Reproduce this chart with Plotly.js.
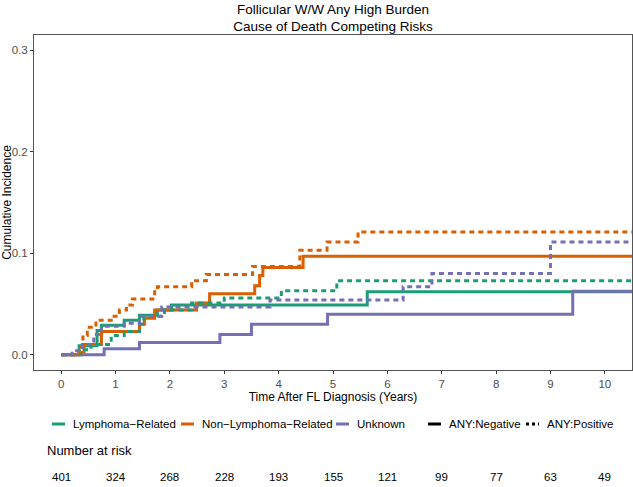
<!DOCTYPE html>
<html><head><meta charset="utf-8">
<script src="https://cdn.plot.ly/plotly-3.0.1.min.js"></script>
<style>body{margin:0;background:#fff}#c{width:633px;height:487px}</style>
</head><body><div id="c"></div>
<script>
// Lymphoma-Related
const lymNegT = [0, 0.33, 0.66, 0.74, 1.16, 1.44, 1.77, 2.03, 5.63, 10.6];
const lymNegY = [0, 0.009, 0.024, 0.029, 0.034, 0.039, 0.044, 0.049, 0.062, 0.062];
const lymPosT = [0, 0.36, 0.55, 0.92, 1.16, 1.44, 1.52, 1.9, 2.4, 3.0, 4.05, 5.07, 10.6];
const lymPosY = [0, 0.005, 0.010, 0.019, 0.023, 0.030, 0.038, 0.044, 0.051, 0.056, 0.063, 0.073, 0.073];
// Non-Lymphoma-Related
const nonNegT = [0, 0.33, 0.42, 0.74, 1.44, 1.53, 1.72, 2.49, 2.73, 3.56, 3.65, 3.71, 4.45, 10.6];
const nonNegY = [0, 0.002, 0.010, 0.023, 0.030, 0.036, 0.044, 0.051, 0.060, 0.068, 0.078, 0.086, 0.097, 0.097];
const nonPosT = [0, 0.33, 0.40, 0.48, 0.64, 0.92, 1.07, 1.2, 1.31, 1.72, 1.77, 2.40, 2.67, 3.52, 4.39, 4.89, 5.46, 10.6];
const nonPosY = [0, 0.008, 0.019, 0.027, 0.034, 0.038, 0.044, 0.049, 0.055, 0.062, 0.067, 0.073, 0.079, 0.087, 0.103, 0.111, 0.121, 0.121];
// Unknown
const unkNegT = [0, 0.79, 1.44, 2.92, 3.50, 4.90, 9.41, 10.6];
const unkNegY = [0, 0.006, 0.012, 0.020, 0.030, 0.040, 0.0625, 0.0625];
const unkPosT = [0, 0.2, 0.39, 0.6, 0.74, 1.16, 1.44, 1.85, 3.84, 6.29, 6.82, 9.0, 10.6];
const unkPosY = [0, 0.004, 0.010, 0.020, 0.028, 0.031, 0.038, 0.047, 0.054, 0.067, 0.080, 0.111, 0.111];

const riskTimes = [0, 1, 2, 3, 4, 5, 6, 7, 8, 9, 10];
const riskCounts = [401, 324, 268, 228, 193, 155, 121, 99, 77, 63, 49];
const xTicks = [0, 1, 2, 3, 4, 5, 6, 7, 8, 9, 10];
const yTicks = [0.0, 0.1, 0.2, 0.3];

const causes = ["Lymphoma\u2212Related", "Non\u2212Lymphoma\u2212Related", "Unknown"];
const colors = ["#1B9E77", "#D95F02", "#7570B3"];
const groups = ["ANY:Negative", "ANY:Positive"];

const series = [
  [lymNegT, lymNegY, 0, 0], [nonNegT, nonNegY, 1, 0], [unkNegT, unkNegY, 2, 0],
  [lymPosT, lymPosY, 0, 1], [nonPosT, nonPosY, 1, 1], [unkPosT, unkPosY, 2, 1]
];
const DASH = "5px,4px";
const traces = series.map(s => ({
  x: s[0], y: s[1], type: "scatter", mode: "lines",
  line: {shape: "hv", color: colors[s[2]], width: 3, dash: s[3] ? DASH : "solid"},
  showlegend: false, hoverinfo: "skip"
}));

const font = "Liberation Sans, Arial, sans-serif";
// manual legend (paper coords): plot area x 34..632, y 35..370
const P = {l: 34, r: 632, t: 35, b: 370};
const px = v => (v - P.l) / (P.r - P.l);
const py = v => (P.b - v) / (P.b - P.t);
const legY = 424;
const legendItems = [
  {k0: 52, text: causes[0], color: colors[0], dash: "solid"},
  {k0: 181, text: causes[1], color: colors[1], dash: "solid"},
  {k0: 336, text: causes[2], color: colors[2], dash: "solid"},
  {k0: 428, text: groups[0], color: "#000", dash: "solid"},
  {k0: 526, text: groups[1], color: "#000", dash: "3px,3px"}
];
const shapes = legendItems.map(it => ({
  type: "line", xref: "paper", yref: "paper",
  x0: px(it.k0), x1: px(it.k0 + 13), y0: py(legY), y1: py(legY),
  line: {color: it.color, width: 3, dash: it.dash}
}));
const annotations = legendItems.map(it => ({
  xref: "paper", yref: "paper", x: px(it.k0 + 19), y: py(legY),
  xanchor: "left", yanchor: "middle", showarrow: false, text: it.text,
  font: {family: font, size: 11.5, color: "#000"}
}));
annotations.push({xref: "paper", yref: "paper", x: px(45), y: py(450), xanchor: "left", yanchor: "middle",
  showarrow: false, text: "Number at risk", font: {family: font, size: 13, color: "#000"}});
riskTimes.forEach((t, i) => annotations.push({
  xref: "x", yref: "paper", x: t, y: py(477), xanchor: "center", yanchor: "middle",
  showarrow: false, text: String(riskCounts[i]), font: {family: font, size: 11.5, color: "#000"}
}));

const layout = {
  width: 633, height: 487,
  margin: {l: 34, r: 1, t: 35, b: 117},
  paper_bgcolor: "#fff", plot_bgcolor: "#fff",
  font: {family: font, color: "#4D4D4D", size: 11},
  title: {text: "Follicular W/W Any High Burden<br>Cause of Death Competing Risks",
    x: 0.5, xref: "paper", xanchor: "center", y: 0.972, yref: "container", yanchor: "top",
    font: {family: font, size: 13.5, color: "#000"}},
  xaxis: {range: [-0.5, 10.5], tickvals: xTicks, ticktext: xTicks.map(String),
    showgrid: false, zeroline: false, showline: true, mirror: true, linecolor: "#555", linewidth: 1,
    ticks: "outside", ticklen: 3, tickcolor: "#333", tickfont: {size: 11.5, color: "#4D4D4D"},
    title: {text: "Time After FL Diagnosis (Years)", standoff: 2, font: {family: font, size: 12, color: "#000"}}},
  yaxis: {range: [-0.015, 0.315], tickvals: yTicks, ticktext: yTicks.map(v => v.toFixed(1)),
    showgrid: false, zeroline: false, showline: true, mirror: true, linecolor: "#555", linewidth: 1,
    ticks: "outside", ticklen: 3, tickcolor: "#333", tickfont: {size: 11.5, color: "#4D4D4D"},
    title: {text: "Cumulative Incidence", standoff: 4, font: {family: font, size: 12, color: "#000"}}},
  shapes: shapes, annotations: annotations, showlegend: false
};
Plotly.newPlot("c", traces, layout, {displayModeBar: false, staticPlot: true});
</script></body></html>
